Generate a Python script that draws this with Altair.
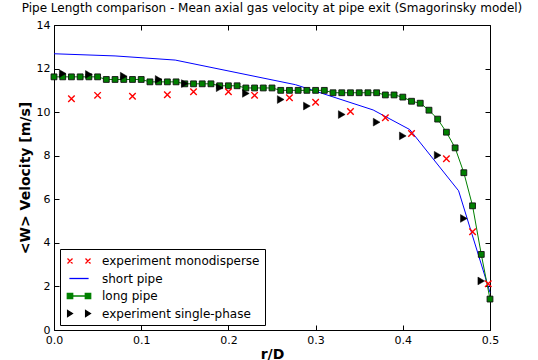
import altair as alt
import pandas as pd

# ---------------- data ----------------
short_r = [0.0, 0.07, 0.139, 0.277, 0.366, 0.408, 0.464, 0.5]
short_v = [12.68, 12.58, 12.39, 11.26, 10.10, 9.20, 6.39, 1.72]

long_r = [0.00, 0.01, 0.02, 0.03, 0.04, 0.05, 0.06, 0.07, 0.08, 0.09,
          0.10, 0.11, 0.12, 0.13, 0.14, 0.15, 0.16, 0.17, 0.18, 0.19,
          0.20, 0.21, 0.22, 0.23, 0.24, 0.25, 0.26, 0.27, 0.28, 0.29,
          0.30, 0.31, 0.32, 0.33, 0.34, 0.35, 0.36, 0.37, 0.38, 0.39,
          0.40, 0.41, 0.42, 0.43, 0.44, 0.45, 0.46, 0.47, 0.48, 0.49, 0.50]
long_v = [11.62, 11.62, 11.62, 11.62, 11.62, 11.62, 11.50, 11.50, 11.50, 11.50,
          11.50, 11.39, 11.39, 11.39, 11.39, 11.30, 11.30, 11.30, 11.30, 11.21,
          11.21, 11.21, 11.11, 11.11, 11.11, 11.11, 11.00, 11.00, 11.00, 11.00,
          11.00, 11.00, 10.89, 10.89, 10.89, 10.89, 10.89, 10.89, 10.79, 10.79,
          10.69, 10.50, 10.41, 10.09, 9.68, 9.08, 8.36, 7.22, 5.70, 3.47, 1.42]

mono_r = [0.02, 0.05, 0.09, 0.13, 0.16, 0.20, 0.23, 0.27, 0.30, 0.34, 0.38, 0.41, 0.45, 0.48, 0.498]
mono_v = [10.61, 10.77, 10.73, 10.80, 10.94, 10.94, 10.77, 10.66, 10.45, 10.03, 9.74, 9.02, 7.86, 4.51, 2.12]

single_r = [0.01, 0.04, 0.08, 0.12, 0.15, 0.19, 0.22, 0.26, 0.29, 0.33, 0.37, 0.40, 0.44, 0.47, 0.49]
single_v = [11.77, 11.73, 11.65, 11.50, 11.31, 11.12, 10.86, 10.58, 10.28, 9.89, 9.54, 8.91, 8.02, 5.12, 2.25]

series_names = ["experiment monodisperse", "short pipe", "long pipe", "experiment single-phase"]
x_ticks = [0.0, 0.1, 0.2, 0.3, 0.4, 0.5]
y_ticks = [0, 2, 4, 6, 8, 10, 12, 14]

title_text = "Pipe Length comparison - Mean axial gas velocity at pipe exit (Smagorinsky model)"

# ---------------- chart ----------------
W, H = 436, 305
FONT = "DejaVu Sans"

short_df = pd.DataFrame({"r": short_r, "v": short_v})
long_df = pd.DataFrame({"r": long_r, "v": long_v})
mono_df = pd.DataFrame({"r": mono_r, "v": mono_v})
single_df = pd.DataFrame({"r": single_r, "v": single_v})
legend_df = pd.DataFrame({"series": series_names})

xs = alt.Scale(domain=[0, 0.5], nice=False, zero=False)
ys = alt.Scale(domain=[0, 14], nice=False)

x_main = alt.Axis(orient="bottom", values=x_ticks, format=".1f", title="r/D", tickSize=0,
                  domain=False, grid=False, labelPadding=4, labelFontSize=11, labelFont=FONT,
                  labelColor="black", labelFlush=False, titleFont=FONT, titleFontSize=14,
                  titleFontWeight="bold", titleColor="black", titlePadding=2)
y_main = alt.Axis(orient="left", values=y_ticks, format="d", title="<W> Velocity [m/s]", tickSize=0,
                  domain=False, grid=False, labelPadding=4, labelFontSize=11, labelFont=FONT,
                  labelColor="black", labelFlush=False, titleFont=FONT, titleFontSize=14,
                  titleFontWeight="bold", titleColor="black", titlePadding=4)


def tick_axis(orient, offset, vals):
    return alt.Axis(orient=orient, offset=offset, values=vals, labels=False, title=None,
                    tickSize=5, tickColor="black", tickWidth=1, domain=False, grid=False)


short_line = alt.Chart(short_df).mark_line(color="#0000ff", strokeWidth=1).encode(
    x=alt.X("r:Q", scale=xs, axis=x_main),
    y=alt.Y("v:Q", scale=ys, axis=y_main),
)

long_line = alt.Chart(long_df).mark_line(color="#008000", strokeWidth=1).encode(
    x=alt.X("r:Q", scale=xs, axis=tick_axis("top", -H, x_ticks)),
    y=alt.Y("v:Q", scale=ys, axis=tick_axis("right", -W, y_ticks)),
)

long_pts = alt.Chart(long_df).mark_point(shape="square", size=34, fill="#008000", stroke="#111111",
                                         strokeWidth=0.9, opacity=1, filled=True).encode(
    x=alt.X("r:Q", scale=xs, axis=tick_axis("bottom", -H, x_ticks)),
    y=alt.Y("v:Q", scale=ys, axis=tick_axis("left", -W, y_ticks)),
)

mono_pts = alt.Chart(mono_df).mark_point(shape="M-1,-1L1,1M-1,1L1,-1", size=42, stroke="#ff0000",
                                         strokeWidth=1.4, opacity=1).encode(
    x=alt.X("r:Q", scale=xs, axis=None),
    y=alt.Y("v:Q", scale=ys, axis=None),
)

single_pts = alt.Chart(single_df).mark_point(shape="triangle-right", size=60, fill="black",
                                             stroke="black", strokeWidth=0.5, filled=True,
                                             opacity=1).encode(
    x=alt.X("r:Q", scale=xs, axis=None),
    y=alt.Y("v:Q", scale=ys, axis=None),
)

legend_paths = [
    "M-1.92,-0.42L-1.08,0.42M-1.92,0.42L-1.08,-0.42M1.08,-0.42L1.92,0.42M1.08,0.42L1.92,-0.42",
    "M-1.6,0L1.6,0",
    "M-1.5,0L1.5,0M-1.95,-0.45L-1.05,-0.45L-1.05,0.45L-1.95,0.45ZM1.05,-0.45L1.95,-0.45L1.95,0.45L1.05,0.45Z",
    "M-1.9,-0.5L-1.1,0L-1.9,0.5ZM1.1,-0.5L1.9,0L1.1,0.5Z",
]
leg = alt.Legend(title=None, orient="none", legendX=6, legendY=224, padding=5,
                 fillColor="white", strokeColor="black", cornerRadius=0, symbolSize=144,
                 symbolStrokeWidth=1.3, labelFont=FONT, labelFontSize=12, labelColor="black",
                 labelOffset=16, symbolOffset=7, rowPadding=4.5, labelLimit=300)
legend_layer = alt.Chart(legend_df).mark_point(opacity=1).encode(
    shape=alt.Shape("series:N", title=None, legend=leg,
                    scale=alt.Scale(domain=series_names, range=legend_paths)),
    fill=alt.Fill("series:N", title=None, legend=leg,
                  scale=alt.Scale(domain=series_names,
                                  range=["transparent", "transparent", "#008000", "black"])),
    stroke=alt.Stroke("series:N", title=None, legend=leg,
                      scale=alt.Scale(domain=series_names,
                                      range=["#ff0000", "#0000ff", "#008000", "black"])),
).transform_filter("false")

chart = alt.layer(
    short_line, long_line, long_pts, mono_pts, single_pts, legend_layer
).resolve_axis(
    x="independent", y="independent"
).properties(
    width=W, height=H,
    background="white",
    title=alt.Title(title_text, font=FONT, fontSize=12, fontWeight="normal", color="black",
                    anchor="middle", offset=4),
    autosize=alt.AutoSizeParams(type="none"),
    padding={"left": 54, "top": 25, "right": 48, "bottom": 30},
).configure_view(
    stroke="black", strokeWidth=1
).configure_legend(
    strokeWidth=1
)

chart.save("out.html", embed_options={"renderer": "svg", "actions": False})
